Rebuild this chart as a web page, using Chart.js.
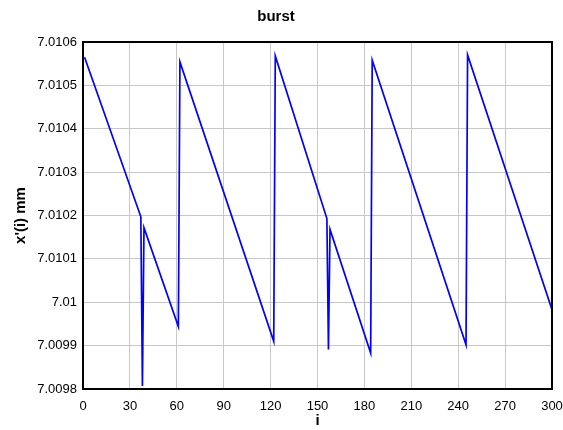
<!DOCTYPE html>
<html>
<head>
<meta charset="utf-8">
<title>burst</title>
<script src="https://cdn.jsdelivr.net/npm/chart.js@4/dist/chart.umd.min.js"></script>
<style>
  html, body { margin: 0; padding: 0; background: #ffffff; }
  #wrap { width: 563px; height: 430px; position: relative; }
</style>
</head>
<body>
<div id="wrap"><canvas id="chart"></canvas></div>
<script>
// Sample index at each vertex of the trace
const sampleIndex = [1, 37, 38, 39, 61, 62, 122, 123, 156, 157, 158, 184, 185, 245, 246, 300];
// Measured position x'(i) in mm at those samples
const positionMm = [
  7.010565, 7.010197, 7.009807, 7.010172, 7.009944, 7.010554,
  7.009910, 7.010568, 7.010193, 7.009891, 7.010168, 7.009883,
  7.010558, 7.009902, 7.010570, 7.009983
];
// Axis tick values
const xTickValues = [0, 30, 60, 90, 120, 150, 180, 210, 240, 270, 300];
const yTickValues = [7.0098, 7.0099, 7.0100, 7.0101, 7.0102, 7.0103, 7.0104, 7.0105, 7.0106];

const points = sampleIndex.map((i, k) => ({ x: i, y: positionMm[k] }));

const FONT = '"Liberation Sans", Arial, Helvetica, sans-serif';

// Black frame around the plotting area
const frame = {
  id: 'frame',
  afterDatasetsDraw(chart) {
    const { ctx, chartArea: a } = chart;
    ctx.save();
    ctx.strokeStyle = '#000000';
    ctx.lineWidth = 2;
    ctx.strokeRect(a.left, a.top, a.right - a.left, a.bottom - a.top);
    ctx.restore();
  }
};

new Chart(document.getElementById('chart'), {
  type: 'scatter',
  data: {
    datasets: [{
      data: points,
      showLine: true,
      borderColor: '#0000ff',
      borderWidth: 1.7,
      pointRadius: 0,
      fill: false,
      tension: 0
    }]
  },
  options: {
    responsive: true,
    maintainAspectRatio: false,
    animation: false,
    layout: { padding: { left: 0, right: 11, top: 0, bottom: 0 } },
    plugins: {
      legend: { display: false },
      tooltip: { enabled: false },
      title: {
        display: true,
        text: 'burst',
        color: '#000000',
        font: { family: FONT, size: 15, weight: 'bold' },
        padding: { top: 8, bottom: 16 }
      }
    },
    scales: {
      x: {
        type: 'linear',
        min: 0,
        max: 300,
        afterBuildTicks(scale) { scale.ticks = xTickValues.map(v => ({ value: v })); },
        afterFit(scale) {
          scale.height = 41;
          // edge labels may overhang into the outer margin
          scale.paddingLeft = 0;
          scale.paddingRight = 0;
        },
        grid: { color: '#c8c8c8', lineWidth: 1, drawTicks: false },
        border: { display: false },
        ticks: {
          color: '#000000',
          font: { family: FONT, size: 13 },
          padding: 10,
          maxRotation: 0,
          autoSkip: false,
          callback: v => String(v)
        },
        title: {
          display: true,
          text: 'i',
          color: '#000000',
          font: { family: FONT, size: 15, weight: 'bold' },
          padding: { top: 0, bottom: 0 }
        }
      },
      y: {
        type: 'linear',
        min: 7.0098,
        max: 7.0106,
        afterBuildTicks(scale) { scale.ticks = yTickValues.map(v => ({ value: v })); },
        afterFit(scale) { scale.width = 83; },
        grid: { color: '#c8c8c8', lineWidth: 1, drawTicks: false },
        border: { display: false },
        ticks: {
          color: '#000000',
          font: { family: FONT, size: 13 },
          padding: 6,
          autoSkip: false,
          callback: v => String(parseFloat(Number(v).toFixed(4)))
        },
        title: {
          display: true,
          text: "x'(i) mm",
          color: '#000000',
          font: { family: FONT, size: 15, weight: 'bold' },
          padding: { top: 12, bottom: 0 }
        }
      }
    }
  },
  plugins: [frame]
});
</script>
</body>
</html>
